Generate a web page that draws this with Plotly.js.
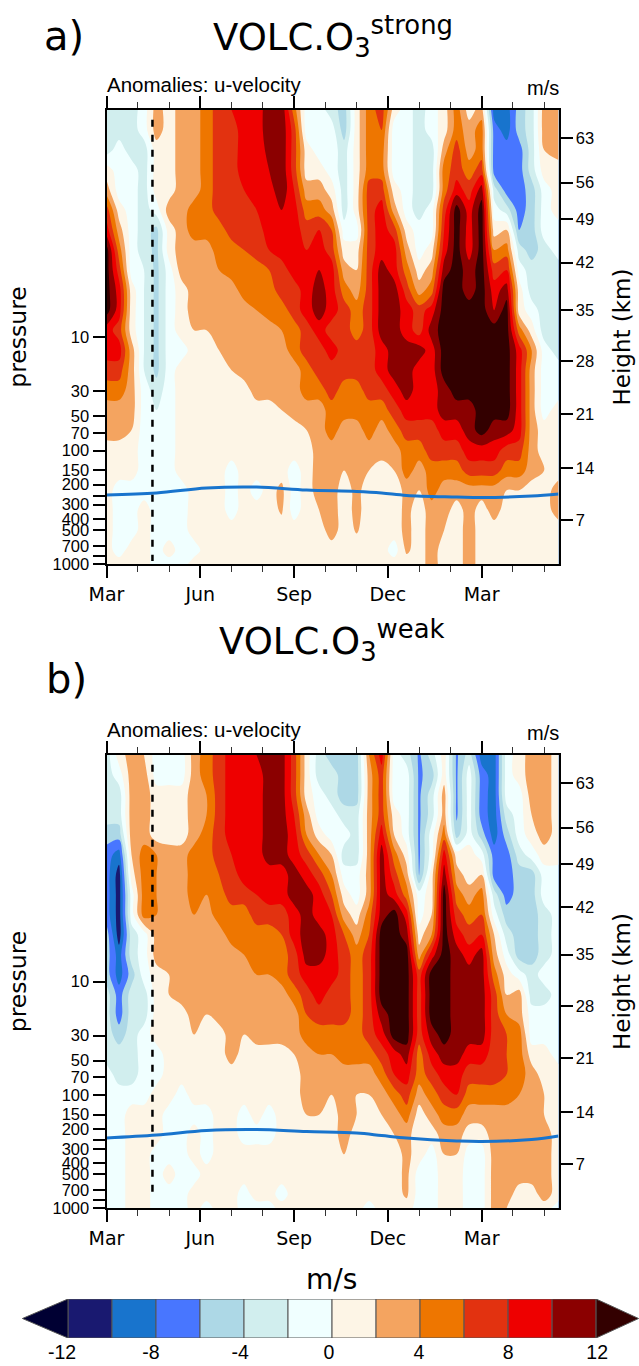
<!DOCTYPE html>
<html><head><meta charset="utf-8">
<script src="https://cdn.plot.ly/plotly-3.0.1.min.js"></script>
<style>html,body{margin:0;padding:0;background:#fff}</style></head>
<body><div id="chart" style="width:639px;height:1366px"></div>
<script>
const months = [0,0.4,0.8,1.2,1.6,2,2.4,2.8,3.2,3.6,4,4.4,4.8,5.2,5.6,6,6.4,6.8,7.2,7.6,8,8.4,8.8,9.2,9.6,10,10.4,10.8,11.2,11.6,12,12.4,12.8,13.2,13.6,14,14.46];
const pressures = [0.1,0.15,0.225,0.338,0.506,0.76,1.14,1.71,2.57,3.86,5.8,8.7,13.1,19.6,29.4,44,66,100,150,224,335,503,755,1000];
const strongCols = [
[-3,-3,-3,1,3,7,9,13,13,13,13,9,9,7,5,3,3,1,1,1,1,1,1,1],
[-3,-3,-1,-1,-1,1,3,5,7,9,9,7,9,7,5,3,3,1,1,-1,-1,-1,-1,1],
[-3,-3,-3,-1,-1,-1,-1,-1,-1,1,1,1,3,3,3,3,2,1,1,-1,-1,-1,1,1],
[-1,-1,-3,-3,-3,-3,-3,-3,-2,-2,-2,-2,-2,-2,-1,-1,-1,-1,-1,-1,1,1,1,1],
[3,3,1,1,1,-1,-4.6,-4.6,-4.6,-4.6,-4.6,-4.6,-4.6,-4.6,-3,-2,-1,-1,-1,-1,-1,-1,-1,-1],
[1,1,1,1,1,3,1,1,-1,-1,-1,-1,-1,-1,-1,-1,-1,-1,-1,-1,-1,-1,1,-1],
[3,3,3,3,3,3,3,3,3,1,1,1,-1,1,1,1,1,1,1,-1,-1,-1,-1,-1],
[3,3,3,3,3,5,5,3,3,3,3,2,1,1,1,1,1,1,1,1,1,1,-1,1],
[5,5,5,5,5,5,5,3,3,3,3,2,1,1,1,1,1,1,1,1,1,1,1,1],
[7,7,7,7,7,7,5,5,4,3,3,3,2,1,1,1,1,1,1,1,1,1,1,1],
[8,7,7,7,7,7,7,5,5,3,3,3,3,2,1,1,1,1,-1,-1,-1,1,1,1],
[9,9,9,9,8,7,7,6,5,5,3,3,3,3,1,1,1,1,1,1,1,1,1,1],
[9,9,9,9,9,8,7,7,5,5,4,3,3,3,3,1,1,1,1,-1,1,1,1,1],
[11,11,10.5,10,9,9,9,8,6,5,5,3,3,3,3,1,1,1,1,1,1,1,1,1],
[11.5,11.5,11.5,11.5,11.5,10,9,9,7,7,5,4,3,3,3,2,1,1,1,2.6,2.3,1,1,1],
[5,7,7,7,8,9,9,9,9,7,7,5,5,3,3,3,1,1,-1,-1,-1,1,1,1],
[-1,-1,1,1,3,5,7,8,9,9,9,7,7,5,5,3,2,1,1,1,1,1,1,1],
[-1,-1,-1,1,3,5,8,9,10,11,11,9,7,7,5,3,3,3,3,3,2,1,1,1],
[-3,-1,-1,-1,1,3,6,7,9,9,9,7,9,7,7,5,5,3,3,3,3,3,1,1],
[-5,-5,-3,-3,-3,-3,-1,1,3,5,7,7,7,7,5,5,3,3,2,1,1,1,1,1],
[1,1,1,1,1,1,-1,1,2,3,5,5,7,7,5,5,3,3,3,2.6,2.6,2.2,1,1],
[5,5,5,5,7,7,7,7,7,7,7,7,7,7,7,5,5,3,2,1,1,1,1,1],
[7,6,5,5,7,9,9,9,11,11,11,11,9,9,7,5,3,3,1,1,1,1,1,1],
[1,-1,-1,-1,1,3,7,9,9,11,11,11,11,11,9,7,5,3,2,1,1,1,-1,1],
[-1,-1,-1,-1,-1,-1,1,3,5,7,9,9,11,11,11,9,7,5,5,2.6,2.6,2.6,2.4,1],
[-3,-3,-3,-3,-3,-3,-1,-1,1,3,7,7,11,9,9,9,7,5,3,2,1,1,1,1],
[-1,-1,-3,-3,-3,-1,-1,1,3,5,9,11,9,9,9,9,7,7,5,5,3,3,3,3],
[1,1,3,5,5,7,8,9,11,13,13,13,13,13,11,11,9,7,5,3,3,2,1,1],
[5,5,7,7,9,13,13,13,13,13,13,13,13,13,13,11,9,7,5,3,1,1,1,1],
[1,3,3,5,7,9,9,9,11,11,13,13,13,13,13,11,11,9,7,3,3,3,3,3],
[3,5,5,7,11,13,13,13,13,13,13,13,13,13,13,13,13,9,7,3,1,1,1,1],
[-9,-7,-7,-7,-3,-1,1,4,7,9,10,13,13,13,13,13,11,9,7,3,3,1,1,1],
[-9,-9,-7,-7,-7,-3,2,5,8,11,13,13,13,13,13,13,11,7,5,2,1,1,1,1],
[-5,-5,-7,-7,-7,-7,-6,-3,-1,1,1,5,9,9,9,9,9,7,5,2,1,1,1,1],
[-3,-3,-3,-3,-5,-5,-5,-5,-3,-3,-1,1,4,3,3,3,3,3,3,1,1,1,1,1],
[3,3,2,1,-1,-1,-1,-3,-3,-3,-3,-3,-1,-1,-1,-1,1,1,2,1,1,1,1,1],
[3,3,3,1,1,1,-1,-1,-3,-3,-3,-3,-3,-1,-1,1,1,1,1,3,3,1,1,1]
];
const weakCols = [
[-3,-3,-3,-3,-5,-7,-7,-7,-7,-5,-5,-5,-3,-3,-3,-3,-1,-1,-1,-1,-1,-1,-1,-1],
[1,-1,-3,-3,-5,-9,-11,-11,-11,-11,-9,-9,-7,-7,-5,-3,-3,-1,-1,-1,-1,-1,-1,-1],
[3,3,3,3,3,2,1,-1,-1,-3,-3,-5,-3,-3,-3,-3,-3,-1,1,1,1,1,1,1],
[2,3,3,3,3,5,5,5,5,-1,-1,-1,-3,-3,-1,-1,-1,-1,1,1,1,1,1,1],
[-1,-1,1,1,1,4,4,4,4,3,3,1,1,1,1,-1,-1,1,1,1,-1,-1,-1,-1],
[-1,-1,1,1,1,3,3,3,3,3,3,2,2,1,1,1,1,1,-1,-1,-1,1,-1,-1],
[-1,-1,1,1,1,3,3,3,3,3,3,3,3,1,1,1,1,-1,-1,-1,-1,-1,-1,-1],
[3,3,3,3,3,5,5,5,4,3,3,3,3,3,2,1,1,1,-1,1,1,-1,1,1],
[5,5,4,4,5,5,5,4,3,3,3,3,3,2,1,1,1,1,-1,-1,-1,1,1,-1],
[7,7,7,7,7,7,6,5,5,3,3,3,3,3,1,1,1,1,1,1,1,1,1,1],
[9,9,9,9,9,8,7,7,5,5,3,3,3,3,3,3,1,1,1,1,1,1,1,1],
[9,9,9,9,9,9,9,7,5,5,4,3,3,3,2,1,1,1,-1,-1,1,1,-1,-1],
[10,9,9,9,9,9,9,8,7,5,5,4,3,3,3,1,1,1,1,-1,1,1,1,-1],
[11,11,11,11,11,11,9,9,7,5,5,4,3,3,3,1,1,1,-1,-1,1,1,1,-1],
[11,11,11,11,11,11,9,9,7,6,5,5,3,3,3,1,1,1,1,1,1,1,-1,1],
[7,7,7,8,9,9,11,11,9,9,7,7,5,3,3,2,1,1,1,1,1,1,1,1],
[1,1,1,3,4,7,9,11,11,11,11,9,7,6,5,3,3,3,2,1,1,1,1,1],
[-3,-3,-1,-1,1,4,7,9,9,11,11,9,9,7,5,4,3,3,2,1,1,1,1,1],
[-5,-3,-3,-1,-1,2,4,6,8,9,9,9,7,7,5,4,3,2,1,1,1,1,1,1],
[-5,-5,-5,-3,-1,-3,-1,1,3,6,7,7,7,7,5,5,3,3,3,3,2,1,1,1],
[-5,-5,-5,-3,-3,-3,-1,-1,1,3,5,5,5,5,5,5,3,2,2,1,1,1,1,1],
[4,3,3,3,3,3,3,3,5,6,7,7,7,7,7,5,3,2,1,2,1,1,1,-1],
[9,7,7,7,9,11,11,11,11,13,13,13,13,11,9,7,5,3,2,1,1,1,1,1],
[-1,-1,-1,1,2,5,7,9,13,13,13,13,13,13,13,9,8,5,3,2,1,1,1,1],
[-3,-1,-1,-1,-1,1,3,5,9,11,13,13,13,13,13,11,9,7,5,2.6,2.6,2.6,2.4,1],
[-6.4,-6.4,-6.4,-6.4,-6.4,-6.4,-6.2,-1,-1,1,3,7,7,7,7,5,5,3,1,1,1,-1,-1,-1],
[-3,-5,-3,-3,-1,-1,1,1,2,4,9,13,13,13,11,9,7,5,3,1,-1,-1,-1,-1],
[1,1,3,3,5,9,11,13,13,13,13,13,13,13,13,11,9,7,5,3,2,1,1,1],
[-6.4,-6.4,-6.4,-6.4,-5,1,3,5,7,9,11,11,11,11,11,11,9,8,5,3,2,1,1,1],
[-3,-1,-1,-1,-1,1,1,3,5,7,9,11,11,11,11,9,7,5,3,1,-1,-1,-1,-1],
[-9,-7,-7,-7,-5,-1,2,5,6,8,11,11,11,11,11,9,7,5,3,1,-1,-1,-1,-1],
[-9,-9,-9,-9,-9,-7,-7,-3,-1,2,3,5,7,7,7,7,7,5,3,3,3,3,3,3],
[-1,-1,-1,-3,-5,-7,-7,-7,-5,-3,-1,1,2,4,6,6,6,5,3,3,3,3,3,2],
[1,1,-1,-1,-1,-3,-5,-5,-5,-5,-5,-1,3,3,5,5,5,4,3,3,3,3,1,1],
[3,3,3,2,1,-1,-5,-5,-5,-5,-5,-3,-3,-1,-1,1,3,3,3,3,3,3,1,1],
[3,3,3,3,3,1,-1,-1,-3,-3,-3,-1,-3,-1,-1,1,1,2,2,3,3,3,3,1],
[1,1,1,1,1,1,-1,-1,-1,-1,-1,-1,-1,-1,-1,-1,1,1,1,1,1,1,1,-1]
];
const tropoMonths = [0,1.6,3.2,4.8,6.4,8,8.8,9.6,11.2,12,13.6,14.46];
const tropoStrong = [247,237,214,210,223,230,237,249,257,260,252,242];
const tropoWeak = [241,227,207,203,211,218,229,241,256,259,248,231];
const eruptionMonth = [1.47,1.47];
const dashStrong = [0.122,940];
const dashWeak = [0.122,800];
const bandColors = ['#000033','#191970','#1874CD','#4876FF','#ADD8E6','#D1EEEE','#F0FFFF','#FDF5E6','#F4A460','#EE7600','#E23210','#EE0000','#8B0000','#330000'];
const barEdges = [-12,-10,-8,-6,-4,-2,0,2,4,6,8,10];
const barStep = [2,2,2,2,2,2,2,2,2,2,2,2];
const barLabels = ['-12','-8','-4','0','4','8','12'];
const barLabelPos = [-12.27,-8.23,-4.18,-0.14,3.95,8,12.05];
const pressureTicks = [10,30,50,70,100,150,200,300,400,500,700,1000];
const pressureLabels = ['10','30','50','70','100','150','200','300','400','500','700','1000'];
const pressureMinor = [250,850];
const heightLabels = ['7','14','21','28','35','42','49','56','63'];
const heightTickP = [412,141.8,47.7,16.4,5.78,2.215,0.912,0.437,0.178];
const monthTicks = [0,3,6,9,12];
const monthLabels = ['Mar','Jun','Sep','Dec','Mar'];
const monthMinor = [1,2,4,5,7,8,10,11,13,14];

const W=639,H=1366;
const dx=[106.5/W,558.5/W];
const dyA=[1-564/H,1-110/H], dyB=[1-1208/H,1-755/H];
const SANS='Liberation Sans, Arial, sans-serif', DJ='DejaVu Sans, sans-serif';
const zOf=cols=>pressures.map((_,r)=>cols.map(c=>c[r]));
const contour=(cols,xa,ya)=>({type:'contour',x:months,y:pressures,z:zOf(cols),xaxis:xa,yaxis:ya,autocontour:false,
  contours:{start:-12,end:12,size:2,coloring:'fill',showlines:false},line:{width:0},
  colorscale:bandColors.map((c,i)=>[i/13,c]),showscale:false,hoverinfo:'skip'});
const xAxis=(anchor,domain)=>({domain,anchor,range:[0,14.46],tickmode:'array',tickvals:monthTicks,ticktext:monthLabels,
  ticks:'outside',ticklen:12,tickwidth:2,tickcolor:'#000',showgrid:false,zeroline:false,showline:true,linewidth:2,linecolor:'#000',mirror:'ticks',
  tickfont:{family:DJ,size:19,color:'#000'},
  minor:{tickmode:'array',tickvals:monthMinor,ticks:'outside',ticklen:6,tickwidth:1,tickcolor:'#333',showgrid:false}});
const yLeft=(anchor,domain)=>({domain,anchor,type:'log',range:[3,-1],tickmode:'array',tickvals:pressureTicks,ticktext:pressureLabels,
  ticks:'outside',ticklen:12,tickwidth:2,tickcolor:'#000',showgrid:false,zeroline:false,showline:true,linewidth:2,linecolor:'#000',
  minor:{tickmode:'array',tickvals:pressureMinor,ticks:'outside',ticklen:12,tickwidth:2,tickcolor:'#000',showgrid:false},
  tickfont:{family:SANS,size:16.5,color:'#000'},title:{text:'pressure',font:{family:DJ,size:23.5,color:'#000'},standoff:19}});
const yRight=(anchor,over)=>({overlaying:over,anchor,side:'right',type:'log',range:[3,-1],tickmode:'array',tickvals:heightTickP,ticktext:heightLabels,
  ticks:'outside',ticklen:12,tickwidth:2,tickcolor:'#000',showgrid:false,zeroline:false,showline:true,linewidth:2,linecolor:'#000',
  tickfont:{family:SANS,size:16.5,color:'#000'},title:{text:'Height (km)',font:{family:DJ,size:23,color:'#000'},standoff:21}});
const note=(text,px,py,size,family,anchor)=>({text,xref:'paper',yref:'paper',x:px/W,y:1-py/H,xanchor:anchor||'center',yanchor:'middle',showarrow:false,
  font:{family:family||DJ,size,color:'#000'}});
const traces=[
  contour(strongCols,'x','y'),
  {type:'scatter',mode:'lines',x:tropoMonths,y:tropoStrong,xaxis:'x',yaxis:'y2',line:{color:'#1874CD',width:3,shape:'spline'},hoverinfo:'skip',showlegend:false},
  {type:'scatter',mode:'lines',x:eruptionMonth,y:dashStrong,xaxis:'x',yaxis:'y2',line:{color:'#000',width:2.5,dash:'7px,8px'},hoverinfo:'skip',showlegend:false},
  contour(weakCols,'x2','y3'),
  {type:'scatter',mode:'lines',x:tropoMonths,y:tropoWeak,xaxis:'x2',yaxis:'y4',line:{color:'#1874CD',width:3,shape:'spline'},hoverinfo:'skip',showlegend:false},
  {type:'scatter',mode:'lines',x:eruptionMonth,y:dashWeak,xaxis:'x2',yaxis:'y4',line:{color:'#000',width:2.5,dash:'7px,8px'},hoverinfo:'skip',showlegend:false},
  {type:'bar',orientation:'h',y:barEdges.map(()=>0.5),x:barStep,base:barEdges,width:1,xaxis:'x3',yaxis:'y5',
    marker:{color:bandColors.slice(1,13),line:{color:'#555',width:1}},hoverinfo:'skip',showlegend:false},
  {type:'scatter',mode:'lines',x:[-12,-14.07,-12,-12],y:[0,0.5,1,0],xaxis:'x3',yaxis:'y5',fill:'toself',fillcolor:bandColors[0],line:{color:'#555',width:1},hoverinfo:'skip',showlegend:false},
  {type:'scatter',mode:'lines',x:[12,13.93,12,12],y:[0,0.5,1,0],xaxis:'x3',yaxis:'y5',fill:'toself',fillcolor:bandColors[13],line:{color:'#555',width:1},hoverinfo:'skip',showlegend:false}
];
const layout={width:W,height:H,margin:{l:0,r:0,t:0,b:0},paper_bgcolor:'#fff',plot_bgcolor:'#fff',showlegend:false,barmode:'overlay',
  xaxis:xAxis('y',dx),yaxis:yLeft('x',dyA),yaxis2:yRight('x','y'),
  xaxis2:xAxis('y3',dx),yaxis3:yLeft('x2',dyB),yaxis4:yRight('x2','y3'),
  xaxis3:{domain:[0,1],anchor:'y5',range:[-15.09,13.95],tickmode:'array',tickvals:barLabelPos,ticktext:barLabels,ticks:'',
    showgrid:false,zeroline:false,showline:false,tickfont:{family:SANS,size:19.5,color:'#000'}},
  yaxis5:{domain:[1-1338/H,1-1299/H],anchor:'x3',range:[0,1],visible:false,showgrid:false,zeroline:false},
  annotations:[
    note('a)',64,36,40),
    note('VOLC.O<sub>3</sub><sup>strong</sup>',333,36,37),
    note('Anomalies: u-velocity',104.5,84.5,20.5,SANS,'left'),
    note('m/s',561,88,20,SANS,'right'),
    note('b)',66,679,40),
    note('VOLC.O<sub>3</sub><sup>weak</sup>',332,640,37),
    note('Anomalies: u-velocity',104.5,729,20.5,SANS,'left'),
    note('m/s',561,733,20,SANS,'right'),
    note('m/s',332,1279,28)
  ]};
Plotly.newPlot('chart',traces,layout,{staticPlot:true,displayModeBar:false});
</script></body></html>
